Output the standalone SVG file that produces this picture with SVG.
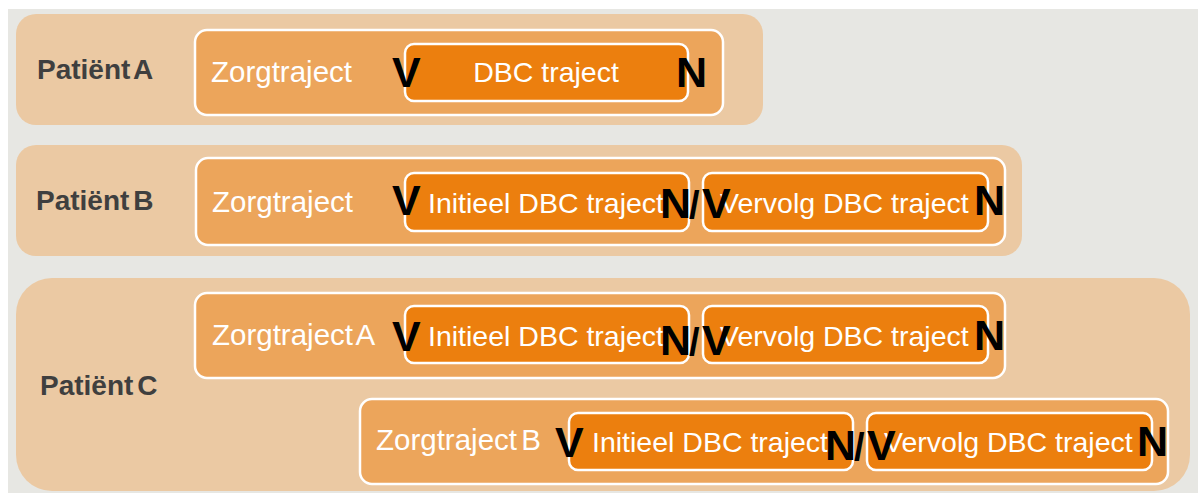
<svg xmlns="http://www.w3.org/2000/svg" width="1200" height="493" viewBox="0 0 1200 493">
<style>
.panel{fill:#EBC9A3}
.zorg{fill:#ECA55B;stroke:#FFFFFF;stroke-width:2.5}
.dbc{fill:#EC7F0E;stroke:#FFFFFF;stroke-width:2.5}
.pt{font-family:"Liberation Sans",Arial,sans-serif;font-weight:bold;font-size:28px;word-spacing:-4px;fill:#3F3F3F}
.wt{font-family:"Liberation Sans",Arial,sans-serif;font-size:28.5px;fill:#FFFFFF}
.zt{font-size:29.5px;word-spacing:-4px}
.vn{font-family:"Liberation Sans",Arial,sans-serif;font-weight:bold;font-size:43px;fill:#000000}
.sl{font-family:"Liberation Sans",Arial,sans-serif;font-weight:bold;font-size:38px;fill:#000000}
</style>
<rect x="0" y="0" width="1200" height="493" fill="#FFFFFF"/>
<rect x="8" y="9" width="1190" height="484" fill="#E7E7E3"/>

<g id="patient-a">
<rect class="panel" x="16" y="14" width="747" height="111" rx="20"/>
<text class="pt" x="37" y="79">Patiënt A</text>
<g id="zorgtraject-a">
<rect class="zorg" x="195" y="30" width="528" height="85" rx="12"/>
<text class="wt zt" x="211" y="82">Zorgtraject</text>
</g>
<g id="dbc-a">
<rect class="dbc" x="405" y="44" width="283" height="57" rx="9"/>
<text class="wt" x="546" y="82" text-anchor="middle">DBC traject</text>
</g>
<text class="vn" x="392" y="87">V</text>
<text class="vn" x="676" y="87">N</text>
</g>

<g id="patient-b">
<rect class="panel" x="16" y="145" width="1006" height="111" rx="20"/>
<text class="pt" x="36" y="210">Patiënt B</text>
<g id="zorgtraject-b">
<rect class="zorg" x="196" y="158" width="809" height="87" rx="12"/>
<text class="wt zt" x="212" y="212">Zorgtraject</text>
</g>
<g id="initieel-b">
<rect class="dbc" x="405" y="173" width="284" height="58" rx="9"/>
<text class="wt" x="428" y="213">Initieel DBC traject</text>
</g>
<g id="vervolg-b">
<rect class="dbc" x="703" y="173" width="285" height="58" rx="9"/>
<text class="wt" x="720" y="213">Vervolg DBC traject</text>
</g>
<text class="vn" x="392" y="215">V</text>
<text class="vn" x="660" y="218">N</text>
<text class="sl" x="689" y="218">/</text>
<text class="vn" x="702" y="218">V</text>
<text class="vn" x="974" y="215">N</text>
</g>

<g id="patient-c">
<rect class="panel" x="16" y="278" width="1174" height="213" rx="36"/>
<text class="pt" x="40" y="395">Patiënt C</text>
<g id="zorgtraject-c-a">
<rect class="zorg" x="195" y="293" width="810" height="85" rx="12"/>
<text class="wt zt" x="212" y="345">Zorgtraject A</text>
</g>
<g id="initieel-c-a">
<rect class="dbc" x="405" y="306" width="284" height="57" rx="9"/>
<text class="wt" x="428" y="346">Initieel DBC traject</text>
</g>
<g id="vervolg-c-a">
<rect class="dbc" x="703" y="306" width="285" height="57" rx="9"/>
<text class="wt" x="720" y="346">Vervolg DBC traject</text>
</g>
<text class="vn" x="392" y="351">V</text>
<text class="vn" x="660" y="355">N</text>
<text class="sl" x="689" y="355">/</text>
<text class="vn" x="702" y="355">V</text>
<text class="vn" x="974" y="350">N</text>
<g id="zorgtraject-c-b">
<rect class="zorg" x="360" y="399" width="808" height="85" rx="12"/>
<text class="wt zt" x="376" y="450">Zorgtraject B</text>
</g>
<g id="initieel-c-b">
<rect class="dbc" x="569" y="413" width="284" height="57" rx="9"/>
<text class="wt" x="592" y="452">Initieel DBC traject</text>
</g>
<g id="vervolg-c-b">
<rect class="dbc" x="867" y="413" width="285" height="57" rx="9"/>
<text class="wt" x="884" y="452">Vervolg DBC traject</text>
</g>
<text class="vn" x="555" y="457">V</text>
<text class="vn" x="825" y="460">N</text>
<text class="sl" x="854" y="460">/</text>
<text class="vn" x="867" y="460">V</text>
<text class="vn" x="1137" y="456">N</text>
</g>
</svg>
